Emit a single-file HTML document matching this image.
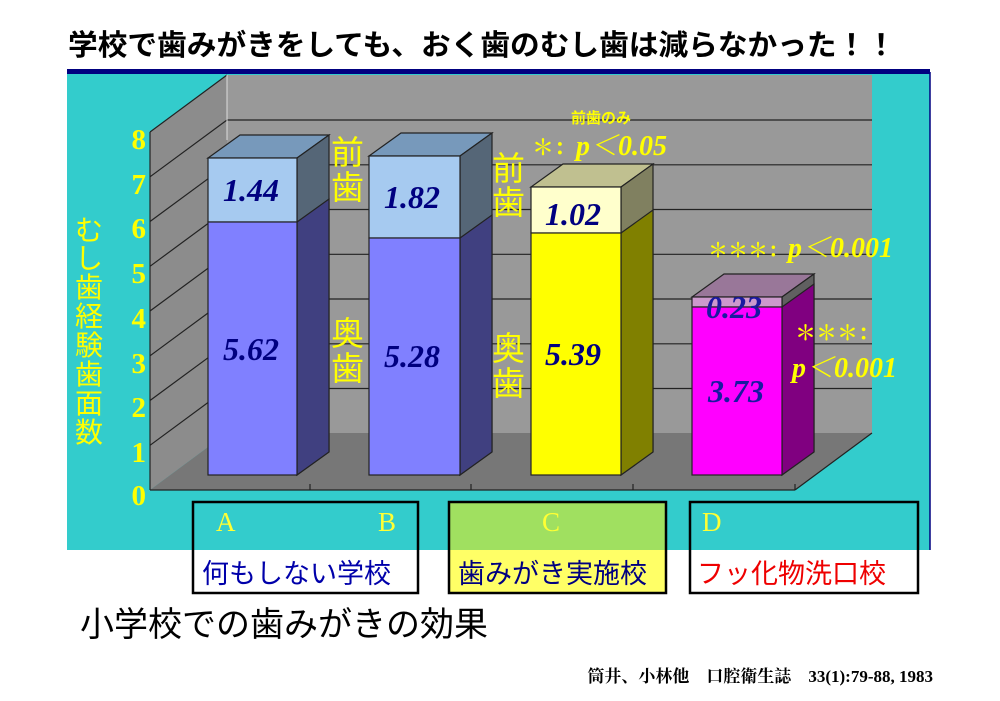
<!DOCTYPE html>
<html><head><meta charset="utf-8"><style>
html,body{margin:0;padding:0;background:#fff;width:1000px;height:701px;overflow:hidden}
svg{display:block}
.t{font-family:"Liberation Sans","Noto Sans CJK JP",sans-serif}
.s{font-family:"Liberation Serif","Noto Serif CJK SC",serif}
</style></head><body>
<svg width="1000" height="701" viewBox="0 0 1000 701">
<text x="68" y="55" class="t" font-size="29" font-weight="bold" fill="#000" textLength="828" lengthAdjust="spacingAndGlyphs">学校で歯みがきをしても、おく歯のむし歯は減らなかった！！</text>
<rect x="67" y="72" width="863" height="478" fill="#33cccc"/>
<rect x="67" y="69" width="863" height="5" fill="#000080"/>
<line x1="930" y1="72" x2="930" y2="550" stroke="#000080" stroke-width="1.5"/>
<rect x="227" y="75" width="645" height="358" fill="#999"/>
<polygon points="150,490 150,132 227,75 227,433" fill="#8c8c8c"/>
<polygon points="150,490 795,490 872,433 227,433" fill="#777"/>
<g stroke="#222" stroke-width="1.2" fill="none">
<line x1="227" y1="120" x2="872" y2="120"/>
<line x1="227" y1="164.8" x2="872" y2="164.8"/>
<line x1="227" y1="209.5" x2="872" y2="209.5"/>
<line x1="227" y1="254.3" x2="872" y2="254.3"/>
<line x1="227" y1="299" x2="872" y2="299"/>
<line x1="227" y1="343.8" x2="872" y2="343.8"/>
<line x1="227" y1="388.5" x2="872" y2="388.5"/>
<line x1="150" y1="132" x2="227" y2="75"/>
<line x1="150" y1="176.8" x2="227" y2="120"/>
<line x1="150" y1="221.5" x2="227" y2="164.8"/>
<line x1="150" y1="266.3" x2="227" y2="209.5"/>
<line x1="150" y1="311" x2="227" y2="254.3"/>
<line x1="150" y1="355.8" x2="227" y2="299"/>
<line x1="150" y1="400.5" x2="227" y2="343.8"/>
<line x1="150" y1="445.3" x2="227" y2="388.5"/>
<line x1="150" y1="132" x2="150" y2="490"/>
<line x1="150" y1="490" x2="795" y2="490"/>
<line x1="795" y1="490" x2="872" y2="433"/>
<line x1="310" y1="490" x2="310" y2="484"/>
<line x1="471" y1="490" x2="471" y2="484"/>
<line x1="633" y1="490" x2="633" y2="484"/>
<line x1="795" y1="490" x2="795" y2="484"/>
</g>
<line x1="227" y1="75" x2="227" y2="140" stroke="#ddd" stroke-width="1"/>
<g class="s" font-size="29" font-weight="bold" fill="#ffff00" text-anchor="end">
<text x="146" y="149">8</text><text x="146" y="194">7</text><text x="146" y="238">6</text><text x="146" y="283">5</text><text x="146" y="328">4</text><text x="146" y="373">3</text><text x="146" y="417">2</text><text x="146" y="462">1</text><text x="146" y="505">0</text>
</g>
<g class="t" font-size="28" fill="#ffff00" text-anchor="middle">
<text x="89" y="240">む</text><text x="89" y="268">し</text><text x="89" y="297">歯</text><text x="89" y="326">経</text><text x="89" y="355">験</text><text x="89" y="384">歯</text><text x="89" y="413">面</text><text x="89" y="442">数</text>
</g>
<g stroke="#222" stroke-width="1.2">
<polygon points="208,158 297,158 329,135 240,135" fill="#7799bb"/>
<polygon points="297,158 329,135 329,452 297,475" fill="#556677"/>
<polygon points="297,222 329,199 329,452 297,475" fill="#404080"/>
<rect x="208" y="158" width="89" height="64" fill="#a6caf0"/>
<rect x="208" y="222" width="89" height="253" fill="#8080ff"/>
<polygon points="369,156 460,156 492,133 401,133" fill="#7799bb"/>
<polygon points="460,156 492,133 492,452 460,475" fill="#556677"/>
<polygon points="460,238 492,215 492,452 460,475" fill="#404080"/>
<rect x="369" y="156" width="91" height="82" fill="#a6caf0"/>
<rect x="369" y="238" width="91" height="237" fill="#8080ff"/>
<polygon points="531,187 621,187 653,164 563,164" fill="#c0c090"/>
<polygon points="621,187 653,164 653,452 621,475" fill="#808060"/>
<polygon points="621,233 653,210 653,452 621,475" fill="#808000"/>
<rect x="531" y="187" width="90" height="46" fill="#ffffcc"/>
<rect x="531" y="233" width="90" height="242" fill="#ffff00"/>
<polygon points="692,297 782,297 814,274 724,274" fill="#997799"/>
<polygon points="782,297 814,274 814,452 782,475" fill="#606060"/>
<polygon points="782,307 814,284 814,452 782,475" fill="#800080"/>
<rect x="692" y="297" width="90" height="10" fill="#cc99cc"/>
<rect x="692" y="307" width="90" height="168" fill="#ff00ff"/>
</g>
<g class="s" font-size="32" font-weight="bold" font-style="italic" fill="#000080" text-anchor="middle">
<text x="251" y="201">1.44</text><text x="251" y="360">5.62</text>
<text x="412" y="208">1.82</text><text x="412" y="367">5.28</text>
<text x="573" y="225">1.02</text><text x="573" y="365">5.39</text>
<text x="734" y="318" fill="#1a1aa0">0.23</text><text x="736" y="402" fill="#1a1aa0">3.73</text>
</g>
<g class="t" font-size="33" fill="#ffff00">
<text x="331" y="164">前</text><text x="331" y="199">歯</text>
<text x="331" y="345">奥</text><text x="331" y="380">歯</text>
<text x="492" y="180">前</text><text x="492" y="214">歯</text>
<text x="492" y="360">奥</text><text x="492" y="395">歯</text>
</g>
<text x="571" y="123" class="t" font-size="15" font-weight="bold" fill="#ffff00">前歯のみ</text>
<g class="s" font-size="28" font-weight="bold" font-style="italic" fill="#ffff00">
<text x="532" y="155"><tspan font-style="normal" font-size="22">＊：</tspan>p＜0.05</text>
<text x="708" y="257"><tspan font-style="normal" font-size="20">＊＊＊：</tspan>p＜0.001</text>
<text x="795" y="340" font-style="normal" font-size="21">＊＊＊：</text>
<text x="792" y="377">p＜0.001</text>
</g>
<rect x="449" y="502" width="217" height="48" fill="#a0e060"/>
<rect x="449" y="550" width="217" height="43" fill="#ffff66"/>
<rect x="193" y="550" width="225" height="43" fill="#fff"/>
<rect x="690" y="550" width="228" height="43" fill="#fff"/>
<g fill="none" stroke="#000" stroke-width="2.5">
<rect x="193" y="502" width="225" height="91"/>
<rect x="449" y="502" width="217" height="91"/>
<rect x="690" y="502" width="228" height="91"/>
</g>
<g class="s" font-size="27" fill="#ffff33">
<text x="216" y="531">A</text><text x="378" y="531">B</text><text x="542" y="531">C</text><text x="702" y="531">D</text>
</g>
<text x="202" y="583" class="t" font-size="27" fill="#0000aa">何もしない学校</text>
<text x="458" y="583" class="t" font-size="27" fill="#000080">歯みがき実施校</text>
<text x="697" y="583" class="t" font-size="27" fill="#ee0000">フッ化物洗口校</text>
<text x="80" y="636" class="t" font-size="34" fill="#000">小学校での歯みがきの効果</text>
<text x="933" y="682" class="s" font-size="17" font-weight="bold" fill="#000" text-anchor="end">筒井、小林他　口腔衛生誌　33(1):79-88, 1983</text>
</svg>
</body></html>
